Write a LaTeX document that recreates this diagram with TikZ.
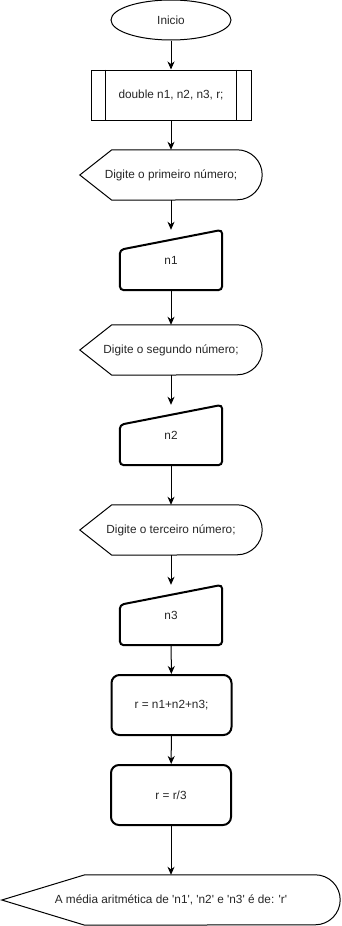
\documentclass[tikz,border=0pt]{standalone}
\usepackage{fontspec}
\setmainfont{Liberation Sans}
\usetikzlibrary{shapes.geometric,arrows.meta}

% outline of a display symbol around a (borderless) node
\newcommand\displayoutline[2]{% node name, width of the pointed part
  \draw[outl] ([xshift=#2pt]#1.north west) -- ([xshift=-25pt]#1.north east)
    arc[start angle=90,end angle=-90,radius=25pt]
    -- ([xshift=#2pt]#1.south west) -- (#1.west) -- cycle;}
% outline of a manual input symbol around a (borderless) node
\newcommand\manualoutline[1]{%
  \draw[thick outl,rounded corners=4pt] ([yshift=-20pt]#1.north west) -- (#1.north east)
    -- (#1.south east) -- (#1.south west) -- cycle;}
\newcommand\sq{\textquotesingle}

\begin{document}
\begin{tikzpicture}[x=1pt,y=-1pt,
  outl/.style={draw=black,line width=1pt},
  thick outl/.style={draw=black,line width=2pt},
  txt/.style={font=\fontsize{11.8}{13}\selectfont,text=black!85,inner sep=0pt},
  box/.style={txt,rectangle,draw=none,minimum width=#1,minimum height=50pt},
  terminal/.style={txt,ellipse,outl,minimum width=120pt,minimum height=40pt},
  predef/.style={txt,rectangle,outl,minimum width=160pt,minimum height=50pt},
  manual/.style={txt,rectangle,draw=none,minimum width=102pt,minimum height=60pt},
  procbox/.style={txt,rectangle,thick outl,rounded corners=8pt,minimum width=120pt,minimum height=60pt},
  flow/.style={line width=1pt,-{Stealth[length=8pt,width=7pt,inset=2.5pt]}}
]
\useasboundingbox (0,0) rectangle (341,926);

\node[terminal] (start) at (171,20) {Inicio};
\node[predef] (decl) at (171,95) {double n1, n2, n3, r;};
\draw[outl] ([xshift=15pt]decl.north west) -- ([xshift=15pt]decl.south west);
\draw[outl] ([xshift=-15pt]decl.north east) -- ([xshift=-15pt]decl.south east);

\node[box=182pt] (d1) at (171,175) {Digite o primeiro número;};
\displayoutline{d1}{32}
\node[manual] (in1) at (171,260) {n1};
\manualoutline{in1}

\node[box=182pt] (d2) at (171,350) {Digite o segundo número;};
\displayoutline{d2}{32}
\node[manual] (in2) at (171,435) {n2};
\manualoutline{in2}

\node[box=182pt] (d3) at (171,530) {Digite o terceiro número;};
\displayoutline{d3}{32}
\node[manual] (in3) at (171,615) {n3};
\manualoutline{in3}

\node[procbox] (sum) at (171.5,705) {r = n1+n2+n3;};
\node[procbox] (div) at (171,795) {r = r/3};

\node[box=338pt] (out) at (171,900) {A média aritmética de \sq n1\sq, \sq n2\sq\ e \sq n3\sq\ é de: \sq r\sq};
\displayoutline{out}{83}

\draw[flow] (start) -- (decl);
\draw[flow] (decl) -- (d1);
\draw[flow] (d1) -- (in1);
\draw[flow] (in1) -- (d2);
\draw[flow] (d2) -- (in2);
\draw[flow] (in2) -- (d3);
\draw[flow] (d3) -- (in3);
\draw[flow] (in3) -- (sum);
\draw[flow] (sum) -- (div);
\draw[flow] (div) -- (out);
\end{tikzpicture}
\end{document}
